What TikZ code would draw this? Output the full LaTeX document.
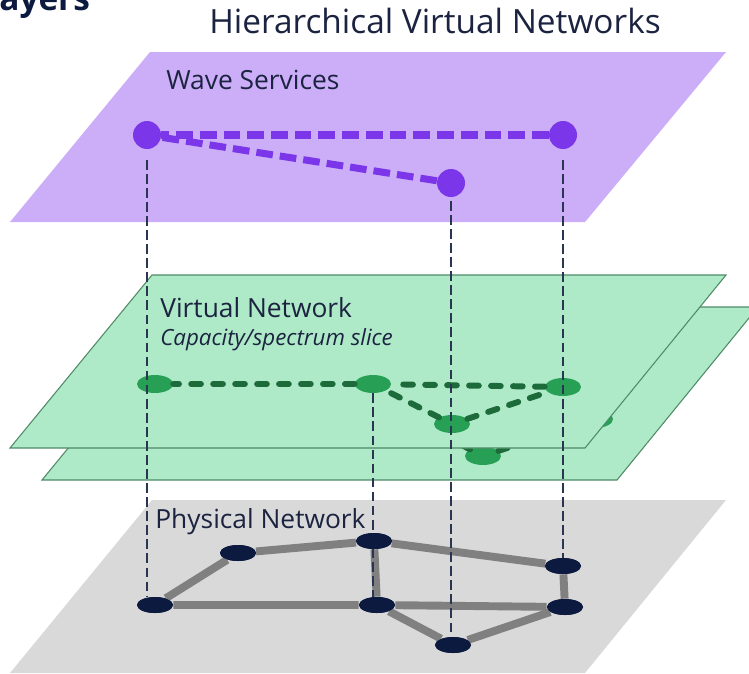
\documentclass[tikz,border=0pt]{standalone}
\usepackage{fontspec}
\setmainfont{Open Sans}
\usetikzlibrary{shapes.geometric}

\definecolor{wavefill}{HTML}{CBAEF7}
\definecolor{wavedot}{HTML}{7B36EA}
\definecolor{virtfill}{HTML}{AEEAC8}
\definecolor{virtedge}{HTML}{4E8A66}
\definecolor{virtdot}{HTML}{27A055}
\definecolor{virtdash}{HTML}{1D6A3A}
\definecolor{physfill}{HTML}{D9D9D9}
\definecolor{physline}{HTML}{808080}
\definecolor{physdot}{HTML}{0C1A40}
\definecolor{droplinecolor}{HTML}{2A3552}
\definecolor{labeltext}{HTML}{1B2340}

\begin{document}
\begin{tikzpicture}[x=0.02cm,y=-0.02cm,
		vplane/.style={fill=virtfill,draw=virtedge,line width=0.6pt},
		wnode/.style={circle,fill=wavedot,inner sep=0pt,minimum size=0.56cm},
		vnode/.style={ellipse,fill=virtdot,inner sep=0pt,minimum width=0.72cm,minimum height=0.36cm},
		pnode/.style={ellipse,fill=physdot,inner sep=0pt,minimum width=0.72cm,minimum height=0.32cm},
		wlink/.style={draw=wavedot,line width=4pt,dash pattern=on 9.5pt off 4pt},
		vlink/.style={draw=virtdash,line width=3.4pt,line cap=round,dash pattern=on 5.5pt off 7pt},
		plink/.style={draw=physline,line width=4.5pt},
		drop/.style={draw=droplinecolor,line width=0.7pt,dash pattern=on 5.5pt off 2.5pt},
		lbl/.style={text=labeltext,anchor=west,inner sep=0pt,font=\fontsize{15}{18}\selectfont}]
			\useasboundingbox (0,0) rectangle (749,673);
			\node [text=physdot,anchor=base west,inner sep=0pt,font=\fontsize{19}{23}\selectfont\bfseries] (slide) at (-1,10) {ayers};
			\node [text=labeltext,inner sep=0pt,font=\fontsize{19}{23}\selectfont] (title) at (435,21) {Hierarchical Virtual Networks};
			% physical layer
			\fill [physfill] (152,500) -- (726,500) -- (585,673) -- (10,673) -- cycle;
			\node [lbl] (physlbl) at (155,522) {Physical Network};
			% virtual layer, the slice behind
			\draw [vplane] (184,307) -- (758,307) -- (617,480) -- (42,480) -- cycle;
			\node [vnode] (bA) at (187,416) {};
			\node [vnode] (bB) at (405,416) {}
				edge[vlink](bA);
			\node [vnode] (bC) at (595,419) {}
				edge[vlink](bB);
			\node [vnode] (bD) at (483,456) {}
				edge[vlink](bB)
				edge[vlink](bC);
			% virtual layer, the slice in front
			\draw [vplane] (152,275) -- (726,275) -- (585,448) -- (10,448) -- cycle;
			\node [lbl] (virtlbl) at (160,308) {Virtual Network};
			\node [lbl,font=\fontsize{12.7}{15}\selectfont\itshape] (slicelbl) at (160,340) {Capacity/spectrum slice};
			\node [vnode] (vA) at (155,384) {};
			\node [vnode] (vB) at (373,384) {}
				edge[vlink](vA);
			\node [vnode] (vC) at (563,387) {}
				edge[vlink](vB);
			\node [vnode] (vD) at (452,424) {}
				edge[vlink](vB)
				edge[vlink](vC);
			% wave layer
			\fill [wavefill] (150,52) -- (726,52) -- (585,222) -- (10,222) -- cycle;
			\node [lbl] (wavelbl) at (166,80) {Wave Services};
			\node [wnode] (wA) at (147,135) {};
			\node [wnode] (wB) at (563,135) {}
				edge[wlink](wA);
			\node [wnode] (wC) at (451,183) {}
				edge[wlink](wA);
			% physical nodes
			\node [pnode] (p1) at (155,605) {};
			\node [pnode] (p2) at (238,553) {};
			\node [pnode] (p3) at (374,541) {};
			\node [pnode] (p4) at (563,566) {};
			\node [pnode] (p5) at (377,605) {};
			\node [pnode] (p6) at (565,607) {};
			\node [pnode] (p7) at (453,645) {};
			\draw [plink] (p1) -- (p2) -- (p3) -- (p4) -- (p6) -- (p5) -- (p1);
			\draw [plink] (p3) -- (p5) -- (p7) -- (p6);
			% drops to the layer below
			\draw [drop,shorten <=6pt] (wA.south) -- (wA.south |- p1.north);
			\draw [drop,shorten <=2pt] (wC.south) -- (wC.south |- p7.north);
			\draw [drop,shorten <=6pt] (wB.south) -- (wB.south |- p4.north);
			\draw [drop] (vB.south) -- (vB.south |- p5.north);
			\foreach \n in {p1,p2,p3,p4,p5,p6,p7}
				\fill [physdot] (\n.center) ellipse (0.36cm and 0.16cm);
		\end{tikzpicture}
\end{document}
